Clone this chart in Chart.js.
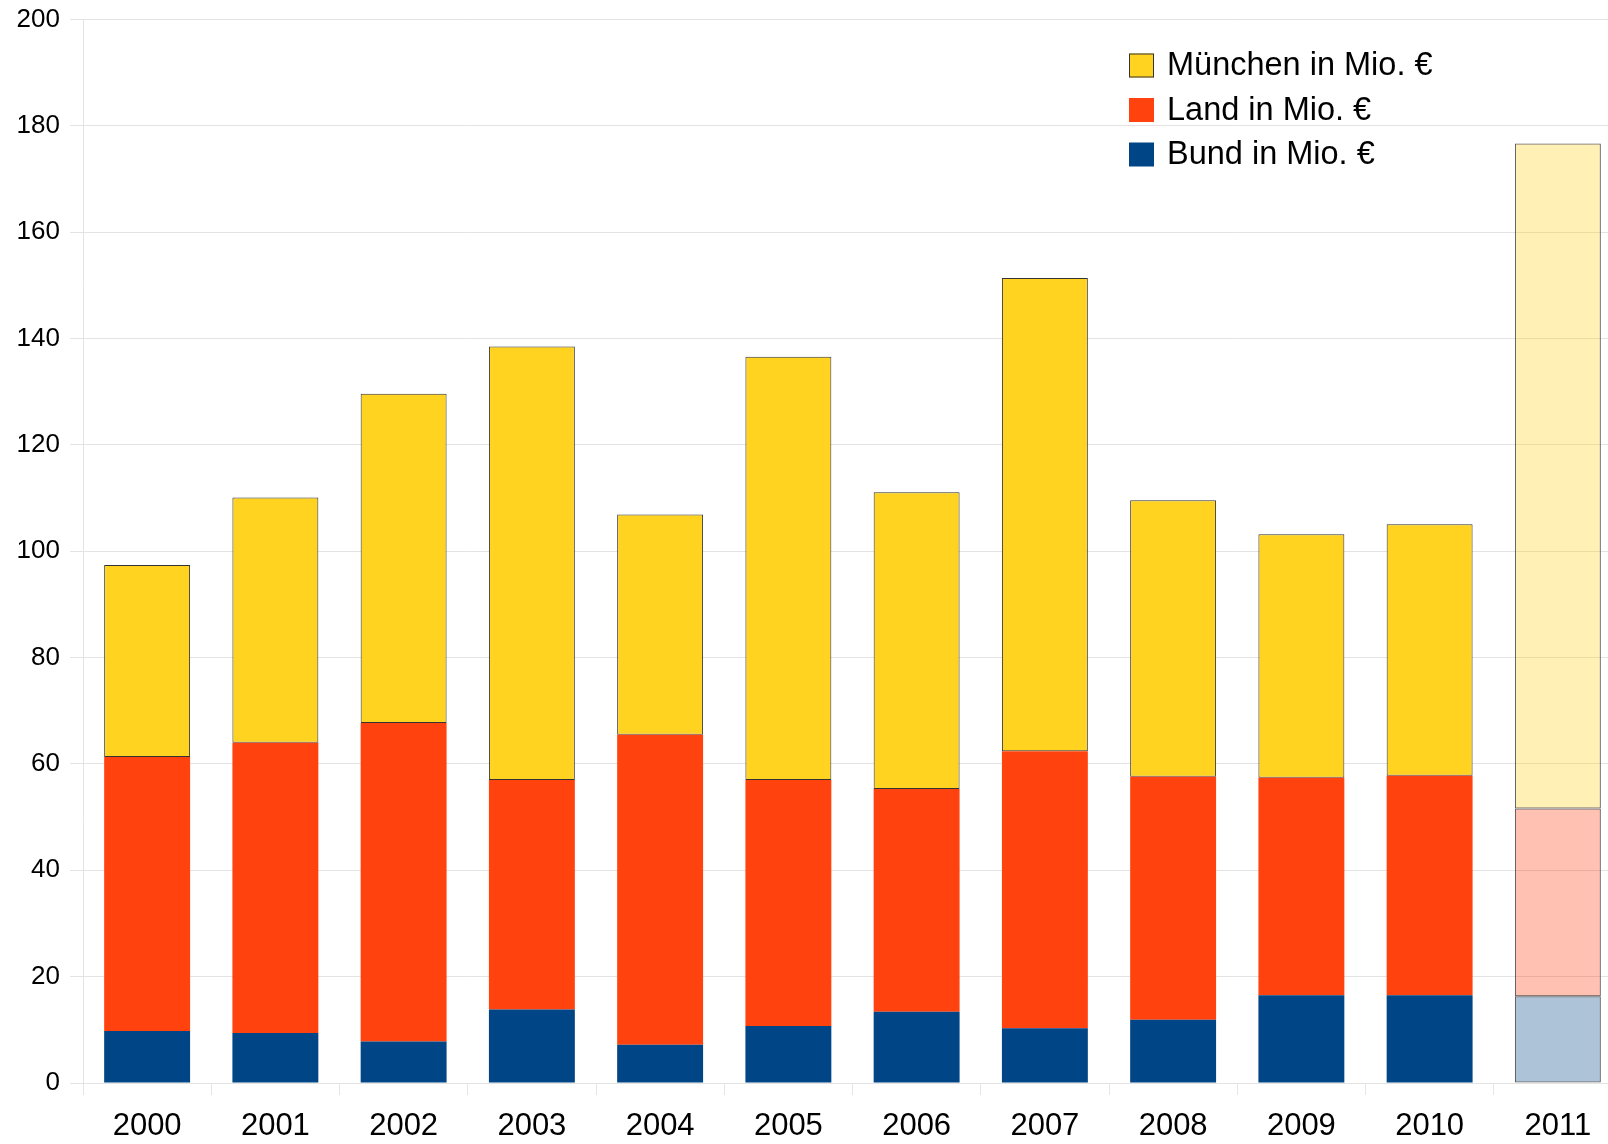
<!DOCTYPE html>
<html>
<head>
<meta charset="utf-8">
<script src="https://cdn.jsdelivr.net/npm/chart.js@4/dist/chart.umd.min.js"></script>
<style>
html,body{margin:0;padding:0;background:#fff;overflow:hidden;width:1608px;height:1144px;}
#wrap{position:absolute;left:0;top:0;width:1622px;height:1144px;}
</style>
</head>
<body>
<div id="wrap"><canvas id="c"></canvas></div>
<script>
const years = ['2000','2001','2002','2003','2004','2005','2006','2007','2008','2009','2010','2011'];
const bund    = [9.8, 9.4, 7.8, 13.8, 7.2, 10.7, 13.4, 10.3, 11.9, 16.5, 16.5, 16.3];
const land    = [51.5, 54.6, 59.9, 43.2, 58.3, 46.3, 41.9, 52.1, 45.7, 40.9, 41.3, 35.3];
const muenchen= [36.1, 46.1, 61.9, 81.5, 41.4, 79.6, 55.8, 89.0, 52.0, 45.8, 47.3, 125.1];
const seriesLabels = ['München in Mio. €', 'Land in Mio. €', 'Bund in Mio. €'];
const yTicks = [0,20,40,60,80,100,120,140,160,180,200];

const colors = {m:'#FFD320', l:'#FF420E', b:'#004586'};
const faded  = {m:'rgba(255,211,32,0.33)', l:'rgba(255,66,14,0.32)', b:'rgba(0,69,134,0.32)'};
const last = years.length - 1;
function fills(c, f){ return years.map((_,i)=> i===last ? f : c); }

const legendPlugin = {
  id:'customLegend',
  afterDraw(chart){
    const ctx = chart.ctx;
    const items = [
      {label: seriesLabels[0], color: colors.m, border:'#333'},
      {label: seriesLabels[1], color: colors.l, border:null},
      {label: seriesLabels[2], color: colors.b, border:null}
    ];
    ctx.save();
    ctx.font = '32.5px "Liberation Sans", Arial, sans-serif';
    ctx.textBaseline = 'middle';
    ctx.textAlign = 'left';
    items.forEach((it, i) => {
      const cy = 65.5 + i*44.5;
      ctx.fillStyle = it.color;
      ctx.fillRect(1129, cy-12, 25, 24);
      if (it.border){ ctx.strokeStyle = it.border; ctx.lineWidth = 1; ctx.strokeRect(1129.5, cy-11.5, 24, 23); }
      ctx.fillStyle = '#000';
      ctx.fillText(it.label, 1167, cy+1);
    });
    ctx.restore();
  }
};

new Chart(document.getElementById('c'), {
  type: 'bar',
  data: {
    labels: years,
    datasets: [
      {label: seriesLabels[2], data: bund, backgroundColor: fills(colors.b, faded.b),
       borderColor: fills(colors.b, '#555'), borderWidth: years.map((_,i)=> i===last?1:0), borderSkipped:false,
       barPercentage: 0.67, categoryPercentage: 1.0, stack:'s'},
      {label: seriesLabels[1], data: land, backgroundColor: fills(colors.l, faded.l),
       borderColor: fills(colors.l, '#555'), borderWidth: years.map((_,i)=> i===last?1:0), borderSkipped:false,
       barPercentage: 0.67, categoryPercentage: 1.0, stack:'s'},
      {label: seriesLabels[0], data: muenchen, backgroundColor: fills(colors.m, faded.m),
       borderColor: fills('#333', '#555'), borderWidth: 1, borderSkipped:false,
       barPercentage: 0.67, categoryPercentage: 1.0, stack:'s'}
    ]
  },
  options: {
    responsive: true,
    maintainAspectRatio: false,
    animation: false,
    layout: {padding: {top: 19.5, right: 0, left: 0, bottom: 0}},
    plugins: {legend: {display:false}, tooltip:{enabled:false}},
    scales: {
      x: {
        stacked: true,
        grid: {display:true, offset:true, drawOnChartArea:false, drawTicks:true, tickLength:12, color:'#e6e6e6'},
        border: {display:false},
        ticks: {color:'#000', font:{size:31, family:'"Liberation Sans", Arial, sans-serif'}, padding:13, maxRotation:0, autoSkip:false},
        afterFit(s){ s.height = 61; s.paddingLeft = 0; s.paddingRight = 0; }
      },
      y: {
        stacked: true,
        min: 0, max: 200,
        afterBuildTicks(s){ s.ticks = yTicks.map(v=>({value:v})); },
        grid: {color:'#e3e3e3', lineWidth:1, tickLength:13, drawTicks:true},
        border: {display:true, color:'#e3e3e3'},
        ticks: {color:'#000', font:{size:26, family:'"Liberation Sans", Arial, sans-serif'}, padding:10},
        afterFit(s){ s.width = 83; s.paddingTop = 0; s.paddingBottom = 0; }
      }
    }
  },
  plugins: [legendPlugin]
});
</script>
</body>
</html>
